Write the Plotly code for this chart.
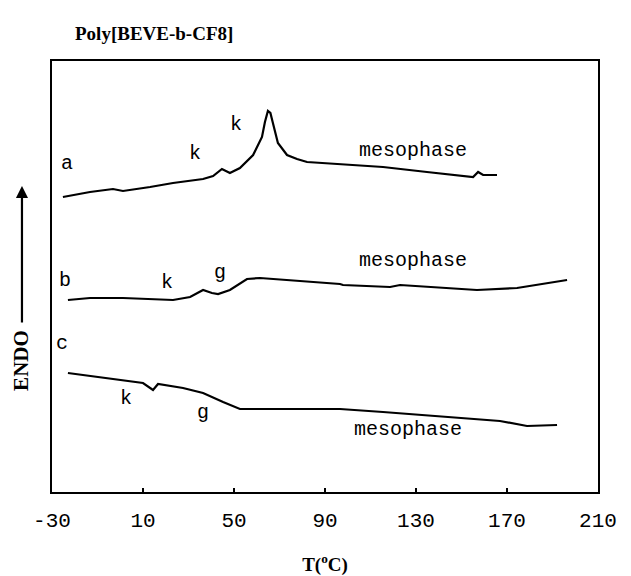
import plotly.graph_objects as go

# DSC traces (temperature in degC, heat flow in arbitrary units, endo up)
temp_a = [-25.2, -13.3, -3.2, 1.2, 13.1, 23.2, 36.4, 40.8, 44.7, 48.2, 52.6, 58.4, 62.3, 63.6,
          64.9, 66.0, 67.1, 69.3, 73.3, 77.7, 82.1, 96.6, 115.5, 134.8, 155.1, 157.3, 159.5, 165.6]
flow_a = [295, 300, 303, 301, 305, 309, 313, 316, 323, 319, 324, 337, 355, 370,
          381, 379, 369, 349, 337, 333, 330, 328, 325, 320, 315, 320, 317, 317]

temp_b = [-23.0, -13.3, 1.2, 16.2, 23.2, 30.7, 36.4, 40.3, 43.0, 48.2, 55.7, 61.4, 74.6,
          96.6, 97.9, 118.6, 123.0, 137.5, 156.8, 174.4, 188.9, 196.4]
flow_b = [192, 194, 194, 193, 192, 195, 202, 199, 198, 202, 213, 214, 212,
          208, 207, 205, 207, 205, 202, 204, 209, 212]

temp_c = [-23.0, -5.8, 10.0, 14.4, 16.6, 27.6, 36.4, 45.2, 52.6, 60.1, 96.6, 115.5,
          144.9, 166.9, 178.8, 192.0]
flow_c = [119, 114, 109, 102, 108, 104, 99, 90, 83, 83, 83, 80, 75, 71, 66, 67]

x_ticks = [-30, 10, 50, 90, 130, 170, 210]

# curve labels: (text, T, flow)
labels = [
    ("a", -23.4, 329), ("k", 32.9, 339), ("k", 50.9, 368), ("mesophase", 128.7, 342),
    ("b", -24.3, 212), ("k", 20.5, 210), ("g", 43.8, 220), ("mesophase", 128.7, 232),
    ("c", -25.6, 149), ("k", 2.5, 94), ("g", 36.4, 80), ("mesophase", 126.5, 63),
]

fig = go.Figure()
for t, f in [(temp_a, flow_a), (temp_b, flow_b), (temp_c, flow_c)]:
    fig.add_trace(go.Scatter(x=t, y=f, mode="lines",
                             line=dict(color="black", width=2.2), showlegend=False,
                             hoverinfo="skip"))

mono = "Liberation Mono, Courier New, monospace"
serif = "Liberation Serif, Times New Roman, serif"

for txt, t, f in labels:
    fig.add_annotation(x=t, y=f, text=txt, showarrow=False,
                       font=dict(family=mono, size=20, color="black"))

# ENDO arrow and label
fig.add_annotation(xref="paper", yref="paper", x=-0.055, y=(492 - 186) / 431, ax=0, ay=138,
                   text="", showarrow=True, arrowhead=2, arrowsize=1.1,
                   arrowwidth=2.2, arrowcolor="black")
fig.add_annotation(xref="paper", yref="paper", x=-0.057, y=(492 - 360) / 431,
                   xanchor="center", yanchor="middle",
                   text="<b>ENDO</b>", textangle=-90, showarrow=False,
                   font=dict(family=serif, size=21, color="black"))

fig.update_layout(
    width=631, height=576,
    margin=dict(l=52, r=33, t=61, b=84),
    paper_bgcolor="white", plot_bgcolor="white",
    title=dict(text="<b>Poly[BEVE-b-CF8]</b>", x=75 / 631, xanchor="left",
               y=1 - 33 / 576, yanchor="middle",
               font=dict(family=serif, size=19, color="black")),
    xaxis=dict(range=[-30, 210], tickvals=x_ticks, ticktext=[str(v) for v in x_ticks],
               showgrid=False, zeroline=False, showline=True, mirror=True,
               linecolor="black", linewidth=2, ticks="inside", ticklen=4,
               tickcolor="black", tickwidth=1.5, ticklabelstandoff=8,
               automargin=False,
               tickfont=dict(family=mono, size=21, color="black"),
               title=dict(text="<b>T(<sup>o</sup>C)</b>", standoff=28,
                          font=dict(family=serif, size=19, color="black"))),
    yaxis=dict(range=[0, 431], showticklabels=False, showgrid=False, zeroline=False,
               showline=True, mirror=True, linecolor="black", linewidth=2, ticks="",
               automargin=False),
)

fig.write_html("out.html", config={"displayModeBar": False},
               post_script="document.body.style.margin='0px';")
